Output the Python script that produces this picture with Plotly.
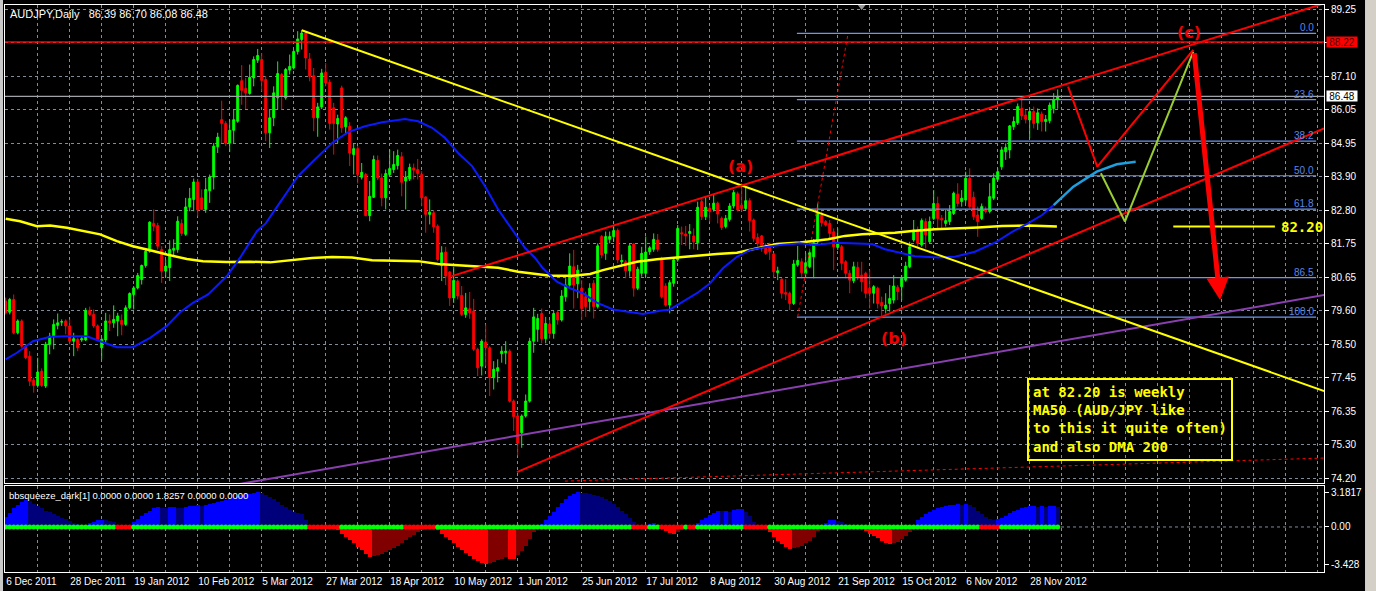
import plotly.graph_objects as go

# ---------------- data ----------------
date_labels = ["6 Dec 2011", "28 Dec 2011", "19 Jan 2012", "10 Feb 2012", "5 Mar 2012",
               "27 Mar 2012", "18 Apr 2012", "10 May 2012", "1 Jun 2012", "25 Jun 2012",
               "17 Jul 2012", "8 Aug 2012", "30 Aug 2012", "21 Sep 2012", "15 Oct 2012",
               "6 Nov 2012", "28 Nov 2012"]
price_ticks = [89.25, 88.20, 87.10, 86.05, 84.95, 83.90, 82.80, 81.75, 80.65, 79.60,
               78.50, 77.45, 76.35, 75.30, 74.20]

opens = [79.91, 79.55, 79.96, 78.89, 79.27, 78.46, 78.14, 77.37, 77.20, 77.66,
         77.18, 78.52, 78.78, 79.13, 79.23, 79.27, 79.11, 78.62, 78.68, 78.66,
         78.66, 79.61, 79.48, 79.11, 78.41, 78.66, 79.27, 79.21, 79.27, 79.29,
         79.16, 79.69, 80.12, 80.33, 80.60, 81.05, 81.51, 82.40, 82.33, 81.56,
         80.87, 80.98, 81.54, 81.56, 82.40, 82.05, 82.93, 83.17, 83.73, 83.22,
         82.85, 83.45, 83.89, 84.86, 85.73, 85.61, 84.98, 85.39, 85.68, 86.98,
         86.73, 86.57, 87.07, 87.64, 87.66, 87.02, 85.31, 85.79, 86.43, 87.18,
         86.43, 87.32, 87.39, 87.92, 88.30, 88.51, 87.68, 87.14, 85.79, 86.14,
         87.25, 86.93, 86.11, 85.59, 86.75, 85.50, 85.52, 84.61, 84.80, 83.88,
         83.97, 82.65, 83.24, 84.42, 83.86, 83.22, 83.97, 84.13, 84.26, 84.54,
         83.76, 83.83, 84.18, 84.13, 83.97, 83.25, 82.69, 82.74, 82.31, 81.05,
         81.48, 80.84, 80.01, 80.55, 80.09, 79.48, 79.66, 79.59, 78.36, 77.82,
         78.59, 78.41, 77.45, 77.66, 78.22, 78.25, 78.30, 76.70, 76.22, 75.68,
         76.22, 76.70, 78.62, 79.00, 79.51, 78.70, 79.17, 78.87, 79.54, 79.30,
         80.05, 80.42, 81.01, 80.46, 80.32, 80.05, 79.89, 80.48, 79.73, 81.98,
         81.44, 81.89, 81.98, 82.17, 81.17, 81.17, 80.88, 81.74, 80.32, 80.80,
         80.80, 81.49, 81.57, 81.87, 81.25, 80.39, 79.78, 80.48, 81.23, 82.10,
         82.06, 82.08, 82.00, 81.78, 83.10, 82.62, 82.88, 82.85, 83.05, 82.56,
         82.30, 82.53, 82.96, 83.35, 82.99, 82.88, 83.13, 82.51, 81.95, 82.00,
         81.65, 81.74, 81.42, 80.82, 80.61, 80.18, 80.16, 79.83, 81.07, 81.17,
         80.80, 81.01, 81.33, 81.81, 82.67, 82.46, 82.40, 82.13, 81.63, 81.65,
         81.17, 80.80, 80.56, 80.99, 80.74, 80.80, 80.32, 80.16, 80.32, 79.86,
         79.67, 79.83, 79.94, 80.35, 80.37, 80.58, 81.01, 81.87, 82.19, 81.71,
         82.46, 81.81, 82.56, 83.04, 82.56, 82.40, 82.46, 82.72, 83.34, 83.10,
         83.15, 83.85, 83.24, 82.67, 82.56, 82.83, 82.78, 83.21, 83.82, 84.22,
         84.70, 84.76, 85.51, 85.63, 86.09, 85.88, 85.72, 85.99, 85.63, 85.91,
         85.67, 85.70, 86.09, 86.39]
highs = [80.02, 80.01, 80.12, 79.32, 79.32, 78.52, 78.30, 77.45, 78.09, 77.75,
         78.60, 78.89, 79.32, 79.51, 79.32, 79.32, 79.32, 78.89, 78.73, 78.75,
         79.69, 79.73, 79.64, 79.16, 78.73, 79.53, 79.48, 79.77, 79.53, 79.48,
         79.77, 80.19, 80.39, 80.81, 81.08, 81.56, 82.47, 82.85, 82.42, 81.67,
         81.24, 81.86, 81.89, 82.63, 82.53, 83.22, 83.54, 83.84, 83.83, 83.49,
         83.86, 83.97, 84.98, 85.31, 86.34, 85.68, 85.73, 86.05, 86.86, 87.48,
         87.07, 87.50, 87.76, 88.00, 87.87, 87.13, 86.05, 86.80, 87.60, 87.23,
         87.39, 87.82, 87.98, 88.57, 88.60, 88.57, 87.87, 87.39, 86.27, 87.36,
         87.55, 87.02, 86.27, 85.89, 86.82, 85.84, 85.65, 84.98, 84.88, 84.34,
         84.02, 83.76, 84.58, 84.58, 84.00, 84.13, 84.77, 84.72, 84.77, 84.69,
         84.08, 84.32, 84.32, 84.47, 84.08, 83.27, 83.17, 82.83, 82.37, 81.67,
         81.65, 80.87, 81.01, 80.60, 80.39, 80.17, 80.20, 79.98, 78.41, 78.68,
         79.16, 78.46, 77.98, 78.04, 78.46, 78.62, 78.36, 76.75, 76.33, 76.27,
         76.91, 78.73, 79.69, 79.50, 79.67, 79.40, 79.30, 79.60, 79.62, 80.26,
         80.64, 81.44, 81.55, 81.07, 80.58, 80.21, 80.48, 80.58, 81.76, 82.03,
         82.14, 82.14, 82.32, 82.24, 81.40, 81.23, 81.76, 81.76, 81.01, 81.65,
         81.98, 81.68, 82.08, 82.06, 81.33, 80.48, 80.58, 81.31, 82.35, 82.30,
         82.32, 82.38, 82.24, 83.10, 83.17, 83.28, 82.99, 83.31, 83.10, 82.62,
         82.67, 83.05, 83.47, 83.42, 83.69, 83.58, 83.21, 82.56, 82.08, 82.03,
         81.76, 81.78, 81.46, 81.01, 80.64, 80.61, 80.21, 81.23, 81.68, 81.28,
         81.44, 81.55, 81.90, 83.04, 82.78, 82.51, 82.51, 82.24, 82.24, 81.71,
         81.22, 80.90, 81.17, 81.17, 81.17, 80.85, 80.90, 80.42, 80.37, 80.05,
         80.16, 80.42, 80.74, 80.42, 80.74, 81.17, 81.81, 82.51, 82.30, 82.56,
         82.56, 82.62, 83.47, 83.26, 82.67, 82.83, 82.99, 83.42, 83.69, 83.47,
         84.06, 84.17, 83.42, 82.94, 83.04, 82.94, 83.69, 84.01, 84.17, 84.86,
         84.97, 85.56, 85.83, 86.25, 86.41, 86.04, 86.09, 86.15, 86.09, 85.99,
         85.88, 86.28, 86.58, 86.70]
lows = [79.48, 79.48, 78.84, 78.84, 78.41, 78.04, 77.18, 76.97, 77.13, 77.15,
        77.12, 78.20, 78.36, 79.00, 79.11, 78.84, 78.52, 78.14, 78.30, 78.60,
        78.62, 79.43, 79.05, 78.62, 78.04, 78.57, 78.95, 79.05, 78.78, 78.81,
        79.11, 79.64, 79.64, 80.28, 80.44, 80.98, 81.46, 82.15, 81.56, 80.49,
        80.66, 80.55, 81.35, 81.46, 82.00, 82.00, 82.79, 82.79, 82.63, 82.83,
        82.74, 83.06, 83.49, 84.66, 84.98, 84.88, 84.69, 84.98, 85.63, 86.21,
        86.07, 86.53, 86.80, 87.55, 86.64, 85.04, 84.82, 85.52, 86.05, 86.05,
        86.37, 87.18, 87.34, 87.82, 87.98, 87.34, 86.96, 85.36, 85.18, 86.07,
        86.80, 85.41, 84.61, 84.98, 85.31, 85.25, 84.24, 83.97, 83.68, 83.81,
        82.63, 82.47, 83.22, 83.79, 82.95, 82.85, 83.92, 84.02, 84.13, 83.27,
        82.85, 83.76, 83.81, 83.81, 82.95, 82.10, 82.37, 82.10, 81.19, 80.55,
        80.42, 79.75, 79.85, 79.96, 79.43, 79.37, 79.34, 78.30, 77.50, 77.52,
        77.82, 76.86, 77.07, 77.30, 77.93, 77.88, 76.65, 75.74, 74.95, 75.20,
        76.17, 76.65, 78.25, 78.60, 78.55, 78.55, 78.70, 78.70, 79.15, 79.25,
        79.89, 80.37, 79.67, 80.00, 79.30, 79.40, 79.57, 79.35, 79.67, 81.28,
        81.23, 81.76, 81.82, 81.12, 81.00, 80.64, 80.69, 80.05, 80.26, 80.69,
        80.69, 81.39, 81.49, 81.49, 79.99, 79.73, 79.51, 80.37, 81.17, 81.71,
        81.68, 81.57, 81.57, 81.55, 82.51, 82.51, 82.46, 82.78, 82.40, 82.19,
        82.24, 82.46, 82.88, 82.78, 82.78, 82.83, 82.14, 81.81, 81.65, 81.49,
        81.39, 81.23, 80.64, 80.58, 79.99, 79.94, 79.62, 79.78, 81.01, 80.64,
        80.69, 80.96, 80.64, 81.71, 82.30, 82.30, 81.87, 80.90, 81.55, 80.90,
        80.64, 80.16, 80.48, 80.58, 80.21, 80.00, 79.67, 79.83, 79.67, 79.41,
        79.51, 79.57, 79.83, 79.94, 79.94, 80.53, 80.96, 81.81, 81.60, 81.65,
        81.60, 81.76, 82.51, 82.24, 82.24, 82.30, 82.35, 82.67, 82.94, 82.94,
        83.04, 82.88, 82.51, 81.97, 82.51, 82.72, 82.72, 83.15, 83.74, 84.12,
        84.44, 84.49, 85.40, 85.56, 85.72, 85.61, 85.13, 85.45, 85.40, 85.35,
        85.35, 85.61, 85.93, 86.08]
closes = [79.54, 79.96, 78.89, 79.27, 78.46, 78.09, 77.34, 77.20, 77.63, 77.20,
          78.52, 78.78, 79.16, 79.21, 79.25, 79.11, 78.62, 78.70, 78.41, 78.70,
          79.61, 79.48, 79.11, 78.68, 78.68, 79.27, 79.21, 79.32, 79.43, 79.16,
          79.69, 80.15, 80.33, 80.73, 81.05, 81.51, 82.44, 82.31, 81.67, 80.87,
          81.03, 81.56, 81.60, 82.47, 82.08, 82.93, 83.20, 83.73, 82.83, 82.85,
          83.49, 83.89, 84.88, 85.17, 85.61, 84.98, 85.39, 85.73, 86.83, 86.67,
          86.59, 87.09, 87.66, 87.79, 86.99, 85.31, 85.79, 86.59, 87.21, 86.50,
          87.34, 87.44, 87.92, 88.32, 88.51, 87.71, 87.12, 85.79, 86.14, 87.23,
          86.91, 85.61, 85.61, 85.77, 85.47, 85.79, 84.66, 84.80, 83.97, 84.04,
          82.65, 83.27, 84.45, 83.86, 83.22, 84.00, 84.16, 84.29, 84.58, 83.72,
          83.89, 84.20, 84.11, 84.00, 83.22, 82.69, 82.76, 82.29, 81.24, 81.46,
          80.71, 80.01, 80.57, 80.07, 79.48, 79.69, 79.53, 78.36, 77.77, 78.62,
          78.41, 77.45, 77.72, 77.77, 78.30, 78.30, 76.70, 76.20, 75.35, 76.22,
          76.70, 78.62, 79.40, 79.35, 78.70, 79.19, 78.87, 79.51, 79.30, 80.07,
          80.42, 81.03, 80.42, 80.90, 79.67, 79.73, 80.32, 79.73, 81.68, 81.39,
          81.98, 81.98, 82.17, 81.23, 81.21, 80.88, 81.68, 80.32, 80.93, 81.44,
          81.48, 81.62, 81.89, 81.57, 80.05, 79.78, 80.50, 81.23, 82.24, 82.06,
          82.00, 82.14, 81.81, 82.92, 82.62, 82.92, 82.78, 83.05, 82.70, 82.27,
          82.56, 82.96, 83.39, 82.83, 82.88, 83.13, 82.49, 81.92, 81.76, 81.68,
          81.44, 81.49, 80.85, 80.88, 80.16, 80.13, 79.83, 81.10, 81.21, 80.82,
          81.14, 81.46, 81.78, 82.72, 82.42, 82.35, 82.08, 81.65, 81.78, 81.12,
          80.80, 80.58, 81.01, 80.69, 80.53, 80.16, 80.16, 80.37, 79.83, 79.75,
          79.78, 79.99, 80.39, 80.21, 80.64, 81.03, 81.65, 82.19, 81.76, 82.49,
          82.03, 82.46, 83.04, 82.56, 82.51, 82.49, 82.78, 83.37, 83.04, 83.21,
          83.85, 82.94, 82.62, 82.46, 82.94, 82.78, 83.26, 83.85, 84.06, 84.76,
          84.84, 85.53, 85.67, 86.15, 85.85, 85.74, 85.99, 85.61, 85.95, 85.67,
          85.74, 86.20, 86.38, 86.48]

# moving averages (bar position, value)
ma_fast_bars = [0, 2.8, 6.8, 11.1, 15.3, 20.3, 23.6, 27.8, 31.8, 36.1, 40.3, 43.6, 46.8,
                50.6, 55.3, 58.6, 62.8, 65.0, 69.1, 73.1, 77.3, 81.6, 85.6, 89.8, 94.1,
                99.8, 103.1, 106.6, 109.8, 113.1, 116.6, 119.8, 123.1, 126.6, 129.8,
                132.3, 134.3, 137.8, 141.1, 144.3, 147.8, 151.8, 156.1, 159.3, 163.6,
                166.1, 169.3, 172.8, 176.1, 179.3, 182.8, 186.1, 189.3, 193.6, 198.6,
                202.3, 207.3, 210.6, 216.6, 219.8, 224.1, 227.3, 233.1, 237.3, 242.3,
                247.3, 251.6, 255.6, 259.1, 262.0]
ma_fast_vals = [78.04, 78.25, 78.62, 78.76, 78.78, 78.78, 78.62, 78.43, 78.43, 78.73,
                79.11, 79.55, 79.85, 80.12, 80.71, 81.30, 82.15, 82.40, 83.17, 83.92,
                84.45, 84.98, 85.33, 85.52, 85.65, 85.75, 85.68, 85.47, 85.15, 84.66,
                84.24, 83.60, 82.85, 82.21, 81.62, 81.30, 80.96, 80.53, 80.32, 80.16,
                79.86, 79.64, 79.54, 79.49, 79.60, 79.64, 79.89, 80.16, 80.48, 80.96,
                81.33, 81.55, 81.63, 81.71, 81.76, 81.71, 81.78, 81.76, 81.74, 81.57,
                81.44, 81.35, 81.31, 81.33, 81.49, 81.78, 82.13, 82.40, 82.67, 82.99]
ma_slow_bars = [0, 3.6, 7.8, 11.1, 15.3, 19.3, 23.6, 27.8, 31.8, 36.1, 40.3, 45.3, 49.3,
                55.3, 61.1, 66.1, 71.6, 76.6, 81.6, 86.6, 91.6, 96.6, 103.1, 108.1,
                114.8, 123.1, 128.1, 132.3, 136.1, 141.8, 146.1, 149.3, 152.8, 157.8,
                162.8, 167.8, 172.8, 177.8, 182.8, 187.8, 192.8, 198.6, 202.3, 205.6,
                209.8, 214.1, 222.3, 226.6, 232.3, 239.1, 243.1, 249.1, 255.6, 262.8]
ma_slow_vals = [82.55, 82.47, 82.31, 82.33, 82.26, 82.15, 82.05, 81.83, 81.67, 81.54,
                81.40, 81.26, 81.19, 81.16, 81.17, 81.15, 81.22, 81.29, 81.32, 81.31,
                81.22, 81.20, 81.19, 81.10, 81.05, 80.98, 80.85, 80.79, 80.72, 80.72,
                80.78, 80.90, 81.01, 81.17, 81.25, 81.31, 81.35, 81.42, 81.46, 81.60,
                81.74, 81.79, 81.84, 81.89, 82.00, 82.05, 82.10, 82.16, 82.21, 82.24,
                82.27, 82.32, 82.33, 82.30]

# drawn objects (bar position, price)
yellow_trend_bars, yellow_trend_prices = [74, 329.6], [88.60, 77.02]
red_upper_bars, red_upper_prices = [111.5, 329.6], [80.71, 89.46]
red_lower_bars, red_lower_prices = [127.8, 329.6], [74.42, 85.45]
purple_bars, purple_prices = [55.0, 329.6], [73.96, 80.10]
fib_diag_bars, fib_diag_prices = [198.0, 210.6], [79.41, 88.50]
dotted_low_bars, dotted_low_prices = [139.8, 329.6], [74.13, 74.87]
path_red_bars, path_red_prices = [265.6, 272.9, 296.9], [86.79, 84.22, 87.97]
path_green_bars, path_green_prices = [273.8, 279.8, 296.9], [84.01, 82.46, 87.91]
ma_proj_bars, ma_proj_vals = [262.0, 266.9, 272.75, 277.75, 282.5], [82.99, 83.58, 84.06, 84.30, 84.38]
arrow_bars, arrow_prices = [297.1, 303.6], [87.91, 79.94]
level_bars, level_price, level_label = [291.9, 317.3], 82.30, "82.20"
hline_red, hline_bid = 88.22, 86.48
fib_bars = [197.8, 327.6]
fib_levels = ["0.0", "23.6", "38.2", "50.0", "61.8", "86.5", "100.0"]
fib_prices = [88.50, 86.37, 85.04, 83.93, 82.86, 80.66, 79.39]
wave_labels = ["(a)", "(b)", "(c)"]
wave_bars = [183.8, 222.0, 295.9]
wave_prices = [84.24, 78.72, 88.52]
note_bar, note_price = 281.1, 76.12
note_text = "at 82.20 is weekly<br>MA50 (AUD/JPY like<br>to this it quite often)<br>and also DMA 200"

# bbsqueeze histogram
squeeze_vals = [0.9, 1.3, 1.7, 2.0, 2.3, 2.45,
                2.35, 2.1, 1.9, 1.7, 1.5, 1.35, 1.2, 1.0, 0.85, 0.7, 0.55, 0.4, 0.3, 0.2, 0.15,
                0.35, 0.5, 0.6, 0.65, 0.6, 0.55, 0.45,
                0.1, 0.05, 0.05, 0.1,
                0.5, 0.75, 1.0, 1.25, 1.5, 1.7, 1.85,
                1.75, 1.7, 1.8, 1.85, 1.75, 1.7, 1.8, 1.9, 1.95, 2.0, 1.95, 2.0,
                2.1, 2.2, 2.3, 2.4, 2.5, 2.6, 2.7, 2.8, 2.9, 3.0, 3.05, 3.1, 3.18,
                3.1, 2.95, 2.75, 2.55, 2.3, 2.05, 1.8, 1.6, 1.4, 1.3, 1.2, 0.6, 0.2,
                0.05, -0.02, -0.05, -0.1, -0.1, -0.2, -0.3,
                -0.6, -0.9, -1.2, -1.5, -1.8, -2.1, -2.45, -2.75,
                -2.7, -2.6, -2.45, -2.3, -2.1, -1.9, -1.7, -1.45, -1.2, -0.95, -0.7, -0.45, -0.25,
                -0.1, -0.05, -0.1,
                -0.3, -0.6, -0.9, -1.2, -1.5, -1.8, -2.1, -2.4, -2.65, -2.9, -3.1, -3.3, -3.43,
                -3.35, -3.25, -3.0, -2.9, -2.8, -2.95, -2.97,
                -2.6, -2.2, -1.7, -1.1, -0.5, -0.05, 0.3,
                0.6, 1.0, 1.4, 1.8, 2.2, 2.55, 2.85, 3.05, 3.18,
                3.15, 3.1, 3.0, 2.95, 2.85, 2.75, 2.6, 2.4, 2.1, 1.8, 1.5, 1.2, 0.8, 0.45,
                0.1, 0.05, 0.05,
                0.3, 0.35, 0.2,
                -0.2, -0.4, -0.55, -0.6, -0.45, -0.3,
                -0.1, 0.05, 0.1,
                0.35, 0.6, 0.85, 1.1, 1.3, 1.5,
                1.45, 1.45, 1.4,
                1.55, 1.65, 1.65,
                1.4, 1.0, 0.5,
                0.1, 0.0, -0.1,
                -0.5, -0.9, -1.3, -1.6, -1.85, -2.0,
                -1.95, -1.85, -1.7, -1.5, -1.25, -0.9, -0.4,
                0.0, 0.4, 0.6, 0.65, 0.55, 0.45, 0.3, 0.15, 0.05, 0.0,
                -0.2, -0.4, -0.6, -0.85, -1.05, -1.25, -1.45, -1.55,
                -1.5, -1.35, -1.1, -0.85, -0.5, -0.1,
                0.65, 0.9, 1.15, 1.4, 1.6, 1.75, 1.85, 1.95, 2.0, 2.05, 2.1,
                2.05, 2.1, 2.0, 1.8, 1.5, 1.2, 0.9, 0.7, 0.6,
                0.7, 0.85, 1.05, 1.25, 1.45, 1.6, 1.75, 1.85, 1.9, 1.95, 1.85, 1.9, 1.85, 1.88, 1.9, 1.83]
squeeze_on_ranges = [(28, 31), (76, 83), (100, 107), (157, 160), (164, 169),
                     (171, 172), (185, 190), (244, 248)]
squeeze_ticks = [3.1817, 0.0, -3.428]

# ---------------- styles ----------------
GRID = "#7f8c99"
FONT = "Liberation Sans"
X_RANGE = [-0.175, 329.575]
n = len(opens)
bars = list(range(n))

fig = go.Figure()

fig.add_trace(go.Candlestick(
    x=bars, open=opens, high=highs, low=lows, close=closes, xaxis="x", yaxis="y",
    increasing=dict(line=dict(color="#00FF00", width=1), fillcolor="#00FF00"),
    decreasing=dict(line=dict(color="#FF0000", width=1), fillcolor="#FF0000"),
    whiskerwidth=0, hoverinfo="skip", showlegend=False))


def line(xs, ys, color, width=2, dash="solid", xa="x", ya="y"):
    fig.add_trace(go.Scatter(x=xs, y=ys, mode="lines", xaxis=xa, yaxis=ya,
                             line=dict(color=color, width=width, dash=dash),
                             hoverinfo="skip", showlegend=False))


# full width horizontal lines
line(X_RANGE, [hline_red, hline_red], "#FF0000", 1.5)
line(X_RANGE, [hline_bid, hline_bid], "#a0a4a8", 1.2)

# fibonacci levels
for p in fib_prices:
    line(fib_bars, [p, p], "#6f95ee", 1.2)
line(fib_diag_bars, fib_diag_prices, "#FF0000", 1, "dot")
line(dotted_low_bars, dotted_low_prices, "#FF0000", 1, "dot")

# moving averages
line(ma_slow_bars, ma_slow_vals, "#FFFF00", 2.5)
line(ma_fast_bars, ma_fast_vals, "#0a1aff", 2)
line(ma_proj_bars, ma_proj_vals, "#1ea0e0", 2.5)

# trend lines
line(purple_bars, purple_prices, "#8a3fb0", 2)
line(yellow_trend_bars, yellow_trend_prices, "#FFFF00", 2)
line(red_upper_bars, red_upper_prices, "#FF0000", 2)
line(red_lower_bars, red_lower_prices, "#FF0000", 2)
line(level_bars, [level_price, level_price], "#FFFF00", 2)
line(path_green_bars, path_green_prices, "#9ACD32", 2)
line(path_red_bars, path_red_prices, "#FF0000", 2)

# chart shift marker
fig.add_trace(go.Scatter(x=[214], y=[89.36], mode="markers", xaxis="x", yaxis="y",
                         marker=dict(symbol="triangle-down", size=7, color="#9a9a9a"),
                         cliponaxis=False, hoverinfo="skip", showlegend=False))

# ---- indicator ----
line(X_RANGE, [0, 0], GRID, 1, "3px,3px", "x2", "y2")
colors = []
for i, v in enumerate(squeeze_vals):
    prev = squeeze_vals[i - 1] if i > 0 else v
    if v >= 0:
        colors.append("#0000FF" if v >= prev else "#00007a")
    else:
        colors.append("#FF0000" if v <= prev else "#800000")
fig.add_trace(go.Bar(x=bars, y=squeeze_vals, width=1, marker=dict(color=colors, line=dict(width=0)),
                     xaxis="x2", yaxis="y2", hoverinfo="skip", showlegend=False))
dot_colors = []
for i in bars:
    on = any(a <= i <= b for a, b in squeeze_on_ranges)
    dot_colors.append("#FF0000" if on else "#00FF00")
fig.add_trace(go.Scatter(x=bars, y=[0] * n, mode="markers", xaxis="x2", yaxis="y2",
                         marker=dict(size=5, color=dot_colors, line=dict(width=0)),
                         hoverinfo="skip", showlegend=False))

# ---------------- annotations ----------------
ann = []
ann.append(dict(x=arrow_bars[1], y=arrow_prices[1], ax=arrow_bars[0], ay=arrow_prices[0],
                xref="x", yref="y", axref="x", ayref="y", showarrow=True, arrowhead=2,
                arrowsize=0.9, arrowwidth=5, arrowcolor="#FF0000", text=""))
for lab, p in zip(fib_levels, fib_prices):
    ann.append(dict(x=fib_bars[1], y=p, xref="x", yref="y", text=lab, showarrow=False,
                    xanchor="right", yanchor="bottom", yshift=-2,
                    font=dict(family=FONT, size=10, color="#5b86e8")))
for lab, b, p in zip(wave_labels, wave_bars, wave_prices):
    ann.append(dict(x=b, y=p, xref="x", yref="y", text="<b>" + lab + "</b>", showarrow=False,
                    font=dict(family="DejaVu Sans", size=16, color="#F00000")))
ann.append(dict(x=(level_bars[1] + 329.6) / 2 + 0.5, y=level_price, xref="x", yref="y",
                text="<b>" + level_label + "</b>", showarrow=False,
                font=dict(family="DejaVu Sans Mono", size=14, color="#FFFF00")))
ann.append(dict(x=note_bar, y=note_price, xref="x", yref="y", text="<b>" + note_text + "</b>",
                showarrow=False, align="left", bordercolor="#FFFF00", borderwidth=2, borderpad=4,
                font=dict(family="DejaVu Sans Mono", size=14, color="#FFFF00")))
ann.append(dict(x=0, y=1, xref="paper", yref="paper", xanchor="left", yanchor="top",
                xshift=3, yshift=-1, showarrow=False,
                text="AUDJPY,Daily\u00a0\u00a0\u00a086.39 86.70 86.08 86.48",
                font=dict(family=FONT, size=11, color="white")))
ann.append(dict(x=0, y=0.1517, xref="paper", yref="paper", xanchor="left", yanchor="top",
                xshift=2, yshift=-2, showarrow=False,
                text="bbsqueeze_dark[1] 0.0000 0.0000 1.8257 0.0000 0.0000",
                font=dict(family=FONT, size=9.5, color="white")))
ann.append(dict(x=1, y=hline_red, xref="paper", yref="y", xanchor="left", xshift=2,
                text=f"{hline_red:.2f}", showarrow=False, bgcolor="#FF0000", width=30, height=10,
                borderpad=0, font=dict(family=FONT, size=10, color="#4a0000")))
ann.append(dict(x=1, y=hline_bid, xref="paper", yref="y", xanchor="left", xshift=2,
                text=f"{hline_bid:.2f}", showarrow=False, bgcolor="#FFFFFF", width=30, height=10,
                borderpad=0, font=dict(family=FONT, size=10, color="black")))

# ---------------- axes ----------------
grid_vals = list(range(0, 330, 8))
grid_text = []
for v in grid_vals:
    k = v // 16
    grid_text.append(date_labels[k] if v % 16 == 0 and k < len(date_labels) else "")

common_x = dict(range=X_RANGE, tickmode="array", tickvals=grid_vals, showgrid=True,
                gridcolor=GRID, griddash="3px,3px", gridwidth=1, zeroline=False,
                showline=True, linecolor="white", linewidth=1, mirror=True,
                rangeslider=dict(visible=False), fixedrange=True, automargin=False)

fig.update_layout(
    width=1376, height=591, template="none",
    margin=dict(l=5, r=52, t=5, b=19),
    paper_bgcolor="black", plot_bgcolor="black", showlegend=False, bargap=0,
    xaxis=dict(common_x, anchor="y", domain=[0, 1], showticklabels=False, ticks=""),
    xaxis2=dict(common_x, anchor="y2", domain=[0, 1], ticktext=grid_text, ticks="",
                ticklabelposition="outside right", tickangle=0,
                tickfont=dict(family=FONT, size=10, color="white")),
    yaxis=dict(anchor="x", domain=[0.157, 1], side="right", range=[74.07, 89.41],
               tickmode="array", tickvals=price_ticks, ticktext=[f"{v:.2f}" for v in price_ticks],
               showgrid=True, gridcolor=GRID, griddash="3px,3px", gridwidth=1, zeroline=False,
               ticks="outside", ticklen=4, tickcolor="white",
               tickfont=dict(family=FONT, size=10, color="white"),
               showline=True, linecolor="white", linewidth=1, mirror=True, automargin=False,
               fixedrange=True),
    yaxis2=dict(anchor="x2", domain=[0, 0.1517], side="right", range=[-4.13, 3.76],
                tickmode="array", tickvals=squeeze_ticks,
                ticktext=["3.1817", "0.00", "-3.428"], showgrid=False, zeroline=False,
                ticks="outside", ticklen=4, tickcolor="white",
                tickfont=dict(family=FONT, size=10, color="white"),
                showline=True, linecolor="white", linewidth=1, mirror=True, automargin=False,
                fixedrange=True),
    annotations=ann,
    shapes=[
        dict(type="rect", xref="paper", yref="paper", x0=1.0311, x1=1.05, y0=-0.05, y1=1.02,
             fillcolor="#d4d0c8", line=dict(width=0), layer="above"),
        dict(type="rect", xref="paper", yref="paper", x0=-0.006, x1=-0.0015, y0=-0.05, y1=1.02,
             fillcolor="#c8c8c8", line=dict(width=0), layer="above"),
    ],
)

fig.write_html("out.html", config={"displayModeBar": False, "staticPlot": True},
               post_script="document.body.style.margin='0px';document.body.style.background='black';")
